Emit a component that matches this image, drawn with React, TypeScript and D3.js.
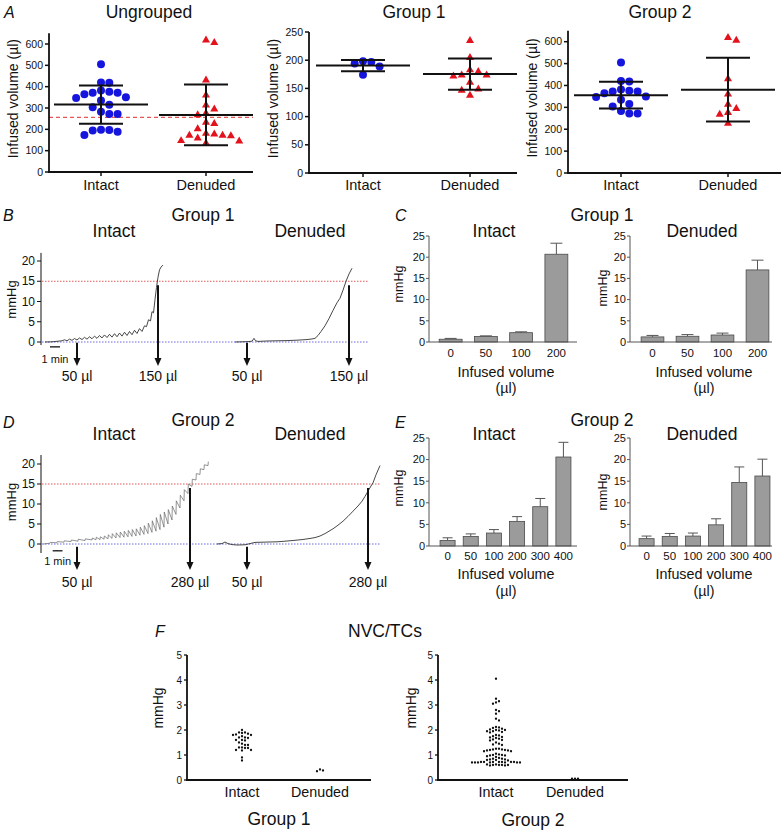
import React from "react";
import * as d3 from "d3";

const FONT = "'Liberation Sans', Arial, Helvetica, sans-serif";
const W = 782;
const H = 831;

// ---------------- Panel A data ----------------
const groupsA = ["Intact", "Denuded"];
const group1Intact = [197, 198, 194, 189, 174];
const group1Denuded = [236, 206, 184, 181, 175, 175, 173, 162, 150, 148, 139];
const group2Intact = [505, 420, 418, 382, 372, 372, 376, 365, 350, 347, 335, 315, 304, 283, 272, 272];
const group2Denuded = [622, 610, 434, 364, 317, 298, 279, 271, 230];
const ungroupedIntact = [...group2Intact, ...group1Intact];
const ungroupedDenuded = [...group2Denuded, ...group1Denuded];
const thresholdUngrouped = 256;
const ticksA600 = [0, 100, 200, 300, 400, 500, 600];
const ticksA250 = [0, 50, 100, 150, 200, 250];

// ---------------- Panels B / D traces (t in min, value in mmHg) ----------------
const traceB_intact: [number, number][] = [
  [0.3, 0], [1.0, 0.05], [1.6, 0.2], [2.0, 0.3], [2.25, 0.55], [2.5, 0.3], [2.75, 0.7], [3.0, 0.4],
  [3.25, 0.85], [3.5, 0.5], [3.75, 1.0], [4.0, 0.6], [4.25, 1.15], [4.5, 0.7], [4.75, 1.3], [5.0, 0.8],
  [5.25, 1.45], [5.5, 0.9], [5.75, 1.6], [6.0, 1.0], [6.25, 1.75], [6.5, 1.1], [6.75, 1.9], [7.0, 1.2],
  [7.25, 2.05], [7.5, 1.3], [7.75, 2.2], [8.0, 1.45], [8.25, 2.4], [8.5, 1.6], [8.75, 2.6], [9.0, 1.8],
  [9.25, 2.9], [9.5, 2.1], [9.75, 3.3], [10.0, 2.6], [10.25, 4.0], [10.45, 3.8], [10.65, 5.5], [10.85, 5.2],
  [11.0, 7.5], [11.15, 7.2], [11.3, 10.5], [11.45, 13.5], [11.6, 16.0], [11.75, 17.8], [11.9, 18.5], [12.1, 19.0],
];
const traceB_denuded: [number, number][] = [
  [19.3, 0], [20.0, 0.05], [20.6, 0.1], [21.0, 0.2], [21.2, 0.9], [21.35, 0.3], [21.6, 0.15], [22.5, 0.25],
  [23.5, 0.3], [24.5, 0.35], [25.5, 0.45], [26.5, 0.6], [27.0, 0.75], [27.3, 0.9], [27.6, 1.6], [27.9, 2.6],
  [28.3, 4.0], [28.7, 5.8], [29.1, 7.8], [29.5, 9.7], [29.8, 10.8], [30.1, 12.8], [30.4, 15.0], [30.7, 16.8],
  [31.0, 18.2],
];
// [t, low, spike peak]
const traceD_intact: [number, number, number][] = [
  [0.1, 0, 0], [0.8, 0.2, 0.4], [1.5, 0.3, 0.6], [2.2, 0.45, 0.8], [2.9, 0.6, 1.0], [3.6, 0.7, 1.2],
  [4.3, 0.85, 1.3], [5.0, 1.0, 1.5], [5.4, 1.05, 1.7], [5.8, 1.1, 1.8], [6.2, 1.2, 2.0], [6.6, 1.3, 2.3],
  [7.0, 1.4, 2.6], [7.4, 1.5, 2.8], [7.8, 1.6, 3.0], [8.2, 1.7, 3.2], [8.6, 1.8, 3.4], [9.0, 1.9, 3.6],
  [9.4, 2.0, 3.8], [9.8, 2.2, 4.2], [10.2, 2.4, 4.6], [10.6, 2.6, 5.2], [11.0, 2.9, 5.8], [11.4, 3.2, 6.6],
  [11.8, 3.6, 7.4], [12.2, 4.2, 8.0], [12.6, 5.0, 8.6], [13.0, 6.0, 9.5], [13.4, 7.4, 10.8], [13.8, 9.0, 12.2],
  [14.2, 10.8, 13.6], [14.6, 12.6, 15.0], [15.0, 14.4, 16.2], [15.4, 16.0, 17.6], [15.8, 17.4, 18.8],
  [16.2, 18.6, 19.8], [16.6, 19.6, 20.6],
];
const traceD_denuded: [number, number][] = [
  [17.5, 0], [18.0, 0.1], [18.3, 0.5], [18.6, 0.1], [19.0, -0.15], [19.5, -0.25], [20.3, -0.2], [20.8, 0.1],
  [21.3, 0.4], [22.0, 0.45], [22.7, 0.5], [23.5, 0.55], [24.3, 0.7], [25.2, 0.9], [26.0, 1.1], [26.7, 1.35],
  [27.3, 1.6], [27.8, 2.0], [28.3, 2.6], [28.7, 3.2], [29.1, 3.8], [29.6, 4.7], [30.1, 5.7], [30.6, 6.9],
  [31.1, 8.2], [31.6, 9.5], [32.0, 10.7], [32.3, 11.9], [32.6, 13.2], [32.9, 14.5], [33.1, 15.3], [33.4, 17.3],
  [33.8, 19.6],
];
const arrowsB = [
  { t: 3.5, from: -0.2, label: "50 µl" },
  { t: 11.6, from: 14, label: "150 µl" },
  { t: 20.5, from: -0.2, label: "50 µl" },
  { t: 30.7, from: 14, label: "150 µl" },
];
const arrowsD = [
  { t: 3.5, from: -0.7, label: "50 µl" },
  { t: 14.8, from: 14, label: "280 µl" },
  { t: 20.5, from: -0.7, label: "50 µl" },
  { t: 32.6, from: 14, label: "280 µl" },
];
const traceTicks = [0, 5, 10, 15, 20];
const threshold = 15;

// ---------------- Panels C / E bars ----------------
const volumesC = ["0", "50", "100", "200"];
const cIntactMean = [0.65, 1.3, 2.2, 20.7];
const cIntactSem = [0.2, 0.15, 0.2, 2.6];
const cDenudedMean = [1.2, 1.35, 1.65, 17.0];
const cDenudedSem = [0.35, 0.4, 0.45, 2.3];
const volumesE = ["0", "50", "100", "200", "300", "400"];
const eIntactMean = [1.3, 2.2, 3.0, 5.7, 9.1, 20.6];
const eIntactSem = [0.6, 0.6, 0.8, 1.1, 1.9, 3.4];
const eDenudedMean = [1.7, 2.2, 2.3, 4.9, 14.7, 16.2];
const eDenudedSem = [0.6, 0.7, 0.7, 1.4, 3.6, 3.9];
const barTicks = [0, 5, 10, 15, 20, 25];

// ---------------- Panel F ----------------
const fGroup1Intact = [2.0, 1.9, 1.9, 1.88, 1.85, 1.82, 1.8, 1.8, 1.75, 1.7, 1.7, 1.68, 1.6, 1.6, 1.58, 1.5,
  1.45, 1.4, 1.4, 1.3, 1.3, 1.28, 1.28, 1.2, 1.2, 1.18, 0.9, 0.78];
const fGroup1Denuded = [0.42, 0.38, 0.35];
const fGroup2Intact = [4.05, 3.25, 3.15, 3.1, 3.05, 2.8, 2.75, 2.65, 2.45, 2.38,
  2.12, 2.1, 2.08, 2.05, 2.02, 2.0, 2.0, 1.98, 1.95, 1.95, 1.92, 1.9,
  1.8, 1.78, 1.75, 1.72, 1.7, 1.68, 1.65, 1.62, 1.6, 1.58,
  1.5, 1.45, 1.42, 1.4,
  1.25, 1.25, 1.22, 1.22, 1.2, 1.2, 1.18, 1.18, 1.15, 1.15,
  1.05, 1.02, 1.0, 1.0, 0.98, 0.98, 0.95, 0.92,
  0.88, 0.85, 0.85, 0.82, 0.82, 0.8, 0.8, 0.78,
  0.72, 0.72, 0.72, 0.72, 0.72, 0.72, 0.72, 0.7, 0.7, 0.7, 0.7, 0.7, 0.7, 0.7,
  0.62, 0.62, 0.6, 0.6, 0.6, 0.6, 0.58, 0.58];
const fGroup2Denuded = [0.05, 0.05, 0.05];
const fTicks = [0, 1, 2, 3, 4, 5];

// ---------------- helpers ----------------
function swarm(values: number[], y: (v: number) => number, step: number, minDist: number) {
  const items = values.map((v, i) => ({ v, i, py: y(v) })).sort((a, b) => a.py - b.py);
  const placed: { x: number; y: number }[] = [];
  const out: { dx: number; py: number }[] = new Array(values.length);
  for (const it of items) {
    for (let k = 0; k < 400; k++) {
      const m = Math.ceil(k / 2);
      const off = k === 0 ? 0 : (k % 2 === 1 ? m : -m) * step;
      if (placed.every((p) => Math.hypot(p.x - off, p.y - it.py) >= minDist - 1e-6)) {
        placed.push({ x: off, y: it.py });
        out[it.i] = { dx: off, py: it.py };
        break;
      }
    }
  }
  return out;
}

function Txt(props: any) {
  const { children, size = 12, anchor = "middle", ...rest } = props;
  return (
    <text fontFamily={FONT} fontSize={size} textAnchor={anchor} fill="#111" {...rest}>
      {children}
    </text>
  );
}

function VLabel({ x, y, size, children }: any) {
  return (
    <text transform={`translate(${x},${y}) rotate(-90)`} dy="0.35em" fontFamily={FONT} fontSize={size}
      textAnchor="middle" fill="#111">{children}</text>
  );
}

// ---------------- Panel A ----------------
function ScatterPanel({ title, titleX, axisX, xEnd, y, topValue, ticks, catRange, intact, denuded, thresholdValue }: any) {
  const x = d3.scalePoint<string>().domain(groupsA).range(catRange);
  const y0 = y(0);
  const sets = [intact, denuded];
  const tri = d3.symbol().type(d3.symbolTriangle).size(28)() as string;
  return (
    <g>
      <Txt x={titleX} y={17.5} size={17.5}>{title}</Txt>
      <VLabel x={axisX - 36} y={(y0 + y(topValue)) / 2 - 4} size={14}>Infused volume (µl)</VLabel>
      {thresholdValue != null && (
        <line x1={axisX} x2={xEnd} y1={y(thresholdValue)} y2={y(thresholdValue)} stroke="#e85555"
          strokeWidth={1.3} strokeDasharray="4 3" />
      )}
      {sets.map((vals: number[], gi: number) => {
        const cx = x(groupsA[gi]) as number;
        const pos = swarm(vals, y, 8.3, 8);
        return (
          <g key={gi}>
            {pos.map((p, i) =>
              gi === 0 ? (
                <circle key={i} cx={cx + p.dx} cy={p.py} r={4} fill="#1515dd" />
              ) : (
                <path key={i} d={tri} transform={`translate(${cx + p.dx},${p.py + 0.8})`} fill="#e3121c" />
              )
            )}
          </g>
        );
      })}
      {sets.map((vals: number[], gi: number) => {
        const cx = x(groupsA[gi]) as number;
        const m = d3.mean(vals) as number;
        const sd = d3.deviation(vals) as number;
        return (
          <g key={"s" + gi} stroke="#111" strokeWidth={2}>
            <line x1={cx - 47} x2={cx + 47} y1={y(m)} y2={y(m)} />
            <line x1={cx - 22} x2={cx + 22} y1={y(m + sd)} y2={y(m + sd)} />
            <line x1={cx - 22} x2={cx + 22} y1={y(m - sd)} y2={y(m - sd)} />
            <line x1={cx} x2={cx} y1={y(m + sd)} y2={y(m - sd)} />
          </g>
        );
      })}
      <line x1={axisX} x2={axisX} y1={y(topValue)} y2={y0 + 1} stroke="#111" strokeWidth={1.8} />
      <line x1={axisX - 1} x2={xEnd} y1={y0} y2={y0} stroke="#111" strokeWidth={1.8} />
      {ticks.map((t: number) => (
        <g key={t}>
          <line x1={axisX - 4} x2={axisX} y1={y(t)} y2={y(t)} stroke="#111" strokeWidth={1.5} />
          <Txt x={axisX - 6} y={y(t)} dy="0.35em" size={10.5} anchor="end">{t}</Txt>
        </g>
      ))}
      {groupsA.map((g) => (
        <g key={g}>
          <line x1={x(g)} x2={x(g)} y1={y0} y2={y0 + 4} stroke="#111" strokeWidth={1.5} />
          <Txt x={x(g)} y={190} size={14.5}>{g}</Txt>
        </g>
      ))}
    </g>
  );
}

// ---------------- Panels B / D ----------------
const tScale = d3.scaleLinear().domain([0, 34]).range([42, 382]);

function TracePanel({ letter, group, letterY, groupY, subY, y, axisLo, axisHi, refEnd, pairs, spikes, arrows,
  arrowBottom, labelY, bar, barLabelY }: any) {
  const line = d3.line<[number, number]>().x((d) => tScale(d[0])).y((d) => y(d[1]));
  const spikePts: [number, number][] = [];
  (spikes as [number, number, number][]).forEach((s) => {
    spikePts.push([s[0], s[1]]);
    spikePts.push([s[0] + 0.03, s[2]]);
  });
  const axisX = 41;
  return (
    <g>
      <Txt x={3} y={letterY} size={16} anchor="start" fontStyle="italic">{letter}</Txt>
      <Txt x={203} y={groupY} size={17.5}>{group}</Txt>
      <Txt x={114} y={subY} size={17.5}>Intact</Txt>
      <Txt x={310} y={subY} size={17.5}>Denuded</Txt>
      <VLabel x={11} y={(y(0) + y(20)) / 2 - 2} size={13}>mmHg</VLabel>
      <line x1={tScale(0)} x2={tScale(refEnd)} y1={y(threshold)} y2={y(threshold)} stroke="#e25a5a" strokeWidth={1}
        strokeDasharray="1.5 1.5" />
      <line x1={tScale(0)} x2={tScale(refEnd)} y1={y(0)} y2={y(0)} stroke="#6a6ae0" strokeWidth={1}
        strokeDasharray="1.5 1.5" />
      {pairs.map((p: [number, number][], i: number) => (
        <path key={i} d={line(p) as string} fill="none" stroke="#333" strokeWidth={0.9} />
      ))}
      {spikePts.length > 0 && (
        <path d={line(spikePts) as string} fill="none" stroke="#666" strokeWidth={0.7} />
      )}
      <line x1={axisX} x2={axisX} y1={y(axisHi)} y2={y(axisLo)} stroke="#111" strokeWidth={1} />
      {traceTicks.map((t) => (
        <g key={t}>
          <line x1={axisX - 4} x2={axisX} y1={y(t)} y2={y(t)} stroke="#111" strokeWidth={1} />
          <Txt x={axisX - 6} y={y(t)} dy="0.35em" size={12} anchor="end">{t}</Txt>
        </g>
      ))}
      <line x1={tScale(bar.t0)} x2={tScale(bar.t1)} y1={y(bar.v)} y2={y(bar.v)} stroke="#111" strokeWidth={1.3} />
      <Txt x={(tScale(bar.t0) + tScale(bar.t1)) / 2} y={barLabelY} size={11}>1 min</Txt>
      {arrows.map((a: any, i: number) => {
        const ax = tScale(a.t);
        return (
          <g key={i}>
            <line x1={ax} x2={ax} y1={y(a.from)} y2={arrowBottom - 6} stroke="#111" strokeWidth={2} />
            <path d={`M${ax - 3.5},${arrowBottom - 8}L${ax + 3.5},${arrowBottom - 8}L${ax},${arrowBottom}Z`} fill="#111" />
            <Txt x={ax} y={labelY} size={14}>{a.label}</Txt>
          </g>
        );
      })}
    </g>
  );
}

// ---------------- Panels C / E ----------------
function BarChart({ axisX, xEnd, y, cats, means, sems, range, capW, title, titleX, titleY, ylabelX, ylabelY, tickY, xlabY, unitY }: any) {
  const x = d3.scaleBand<string>().domain(cats).range(range).paddingInner(0.35).paddingOuter(0.175);
  const bw = x.bandwidth();
  return (
    <g>
      <Txt x={titleX} y={titleY} size={17.5}>{title}</Txt>
      <VLabel x={ylabelX} y={ylabelY} size={12.5}>mmHg</VLabel>
      {cats.map((c: string, i: number) => {
        const x0 = x(c) as number;
        const cx = x0 + bw / 2;
        const top = y(means[i]);
        const et = y(means[i] + sems[i]);
        return (
          <g key={c}>
            <line x1={cx} x2={cx} y1={top} y2={et} stroke="#555" strokeWidth={1} />
            <line x1={cx - capW / 2} x2={cx + capW / 2} y1={et} y2={et} stroke="#555" strokeWidth={1} />
            <rect x={x0} y={top} width={bw} height={y(0) - top} fill="#9b9b9b" stroke="#4a4a4a" strokeWidth={0.8} />
            <Txt x={cx} y={tickY} size={11.5}>{c}</Txt>
          </g>
        );
      })}
      <line x1={axisX} x2={axisX} y1={y(25)} y2={y(0)} stroke="#555" strokeWidth={1} />
      <line x1={axisX} x2={xEnd} y1={y(0)} y2={y(0)} stroke="#555" strokeWidth={1} />
      {barTicks.map((t) => (
        <g key={t}>
          <line x1={axisX - 3} x2={axisX} y1={y(t)} y2={y(t)} stroke="#555" strokeWidth={1} />
          <Txt x={axisX - 4} y={y(t)} dy="0.35em" size={11} anchor="end">{t}</Txt>
        </g>
      ))}
      <Txt x={(axisX + xEnd) / 2 + 3} y={xlabY} size={14.3}>Infused volume</Txt>
      <Txt x={(axisX + xEnd) / 2 + 3} y={unitY} size={14.3}>(µl)</Txt>
    </g>
  );
}

// ---------------- Panel F ----------------
function DotPanel({ axisX, xEnd, catRange, intact, denuded, groupLabel, groupY, ylabelX }: any) {
  const y = d3.scaleLinear().domain([0, 5]).range([780, 655]);
  const x = d3.scalePoint<string>().domain(groupsA).range(catRange);
  return (
    <g>
      <VLabel x={ylabelX} y={708} size={14}>mmHg</VLabel>
      {[intact, denuded].map((vals: number[], gi: number) => {
        const cx = x(groupsA[gi]) as number;
        return swarm(vals, y, 3.0, 2.9).map((p, i) => (
          <circle key={gi + "-" + i} cx={cx + p.dx} cy={p.py} r={1.15} fill="#111" />
        ));
      })}
      <line x1={axisX} x2={axisX} y1={y(5)} y2={y(0) + 1} stroke="#111" strokeWidth={1.8} />
      <line x1={axisX - 1} x2={xEnd} y1={y(0)} y2={y(0)} stroke="#111" strokeWidth={1.8} />
      {fTicks.map((t) => (
        <g key={t}>
          <line x1={axisX - 3} x2={axisX} y1={y(t)} y2={y(t)} stroke="#111" strokeWidth={1.3} />
          <Txt x={axisX - 5} y={y(t)} dy="0.35em" size={10} anchor="end">{t}</Txt>
        </g>
      ))}
      {groupsA.map((g) => (
        <Txt key={g} x={x(g)} y={797} size={14.3}>{g}</Txt>
      ))}
      <Txt x={(axisX + xEnd) / 2} y={groupY} size={17.5}>{groupLabel}</Txt>
    </g>
  );
}

export default function App() {
  const yUng = d3.scaleLinear().domain([0, 600]).range([172, 44]);
  const yG1 = d3.scaleLinear().domain([0, 250]).range([173, 32]);
  const yG2 = d3.scaleLinear().domain([0, 600]).range([173, 41.7]);
  const yB = d3.scaleLinear().domain([0, 20]).range([342, 261]);
  const yD = d3.scaleLinear().domain([0, 20]).range([544, 464]);
  const yC = d3.scaleLinear().domain([0, 25]).range([342, 236]);
  const yE = d3.scaleLinear().domain([0, 25]).range([546, 438]);
  return (
    <div style={{ position: "absolute", left: 0, top: 0, background: "#fff" }}>
      <svg width={W} height={H} viewBox={`0 0 ${W} ${H}`} style={{ display: "block" }}>
        <rect width={W} height={H} fill="#fff" />
        {/* A */}
        <Txt x={4} y={18} size={16} anchor="start" fontStyle="italic">A</Txt>
        <ScatterPanel title="Ungrouped" titleX={149} axisX={49} xEnd={253} y={yUng} topValue={650} ticks={ticksA600}
          catRange={[101, 206]} intact={ungroupedIntact} denuded={ungroupedDenuded} thresholdValue={thresholdUngrouped} />
        <ScatterPanel title="Group 1" titleX={414} axisX={309} xEnd={517} y={yG1} topValue={250} ticks={ticksA250}
          catRange={[363, 470]} intact={group1Intact} denuded={group1Denuded} />
        <ScatterPanel title="Group 2" titleX={660} axisX={568} xEnd={781} y={yG2} topValue={650} ticks={ticksA600}
          catRange={[621, 728]} intact={group2Intact} denuded={group2Denuded} />

        {/* B */}
        <TracePanel letter="B" group="Group 1" letterY={221} groupY={220.5} subY={237} y={yB} axisLo={-0.75} axisHi={22}
          refEnd={32.6} pairs={[traceB_intact, traceB_denuded]} spikes={[]} arrows={arrowsB} arrowBottom={366}
          labelY={381} bar={{ t0: 0.8, t1: 1.8, v: -1.2 }} barLabelY={363} />
        {/* D */}
        <TracePanel letter="D" group="Group 2" letterY={428} groupY={426} subY={440} y={yD} axisLo={-2.25} axisHi={22.25}
          refEnd={33.8} pairs={[traceD_denuded]} spikes={traceD_intact} arrows={arrowsD} arrowBottom={570}
          labelY={587} bar={{ t0: 1.07, t1: 2.05, v: -1.7 }} barLabelY={565} />

        {/* C */}
        <Txt x={395} y={221} size={16} anchor="start" fontStyle="italic">C</Txt>
        <Txt x={602} y={220.5} size={17.5}>Group 1</Txt>
        <BarChart axisX={429} xEnd={577} y={yC} cats={volumesC} means={cIntactMean} sems={cIntactSem} range={[433, 574]}
          capW={12} title="Intact" titleX={494} titleY={237} ylabelX={399} ylabelY={284} tickY={357} xlabY={377} unitY={393} />
        <BarChart axisX={630} xEnd={772} y={yC} cats={volumesC} means={cDenudedMean} sems={cDenudedSem} range={[635, 775]}
          capW={12} title="Denuded" titleX={702} titleY={237} ylabelX={603} ylabelY={288} tickY={357} xlabY={377} unitY={393} />

        {/* E */}
        <Txt x={395} y={428} size={16} anchor="start" fontStyle="italic">E</Txt>
        <Txt x={602} y={426} size={17.5}>Group 2</Txt>
        <BarChart axisX={429} xEnd={577} y={yE} cats={volumesE} means={eIntactMean} sems={eIntactSem} range={[436, 575]}
          capW={10} title="Intact" titleX={494} titleY={440} ylabelX={399} ylabelY={488} tickY={560} xlabY={579} unitY={596} />
        <BarChart axisX={630} xEnd={772} y={yE} cats={volumesE} means={eDenudedMean} sems={eDenudedSem} range={[635, 774]}
          capW={10} title="Denuded" titleX={702} titleY={440} ylabelX={603} ylabelY={492} tickY={560} xlabY={579} unitY={596} />

        {/* F */}
        <Txt x={155} y={637} size={16} anchor="start" fontStyle="italic">F</Txt>
        <Txt x={385} y={637} size={17.5}>NVC/TCs</Txt>
        <DotPanel axisX={187} xEnd={371} catRange={[242, 320]} intact={fGroup1Intact} denuded={fGroup1Denuded}
          groupLabel="Group 1" groupY={825} ylabelX={158} />
        <DotPanel axisX={438} xEnd={628} catRange={[496, 575]} intact={fGroup2Intact} denuded={fGroup2Denuded}
          groupLabel="Group 2" groupY={826} ylabelX={411} />
      </svg>
    </div>
  );
}
